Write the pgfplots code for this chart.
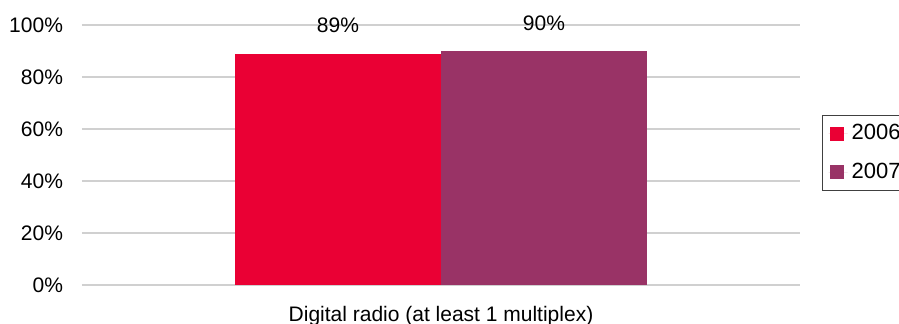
\documentclass[border=0pt]{standalone}
\usepackage{pgfplots}
\pgfplotsset{compat=1.18}
\usepackage{fontspec}
\setmainfont{Liberation Sans}
\definecolor{c2006}{RGB}{234,0,52}
\definecolor{c2007}{RGB}{153,51,102}
\definecolor{gridc}{RGB}{208,208,208}
\begin{document}
\begin{tikzpicture}
\begin{axis}[
  at={(0,0)}, anchor=south west,
  width=359pt, height=130pt, scale only axis,
  /pgf/number format/assume math mode=true,
  ybar=0pt, bar width=103pt,
  xmin=-1, xmax=1, ymin=0, ymax=100,
  xtick={0}, xticklabels={Digital radio (at least 1 multiplex)},
  extra x ticks={-1,1}, extra x tick labels={},
  extra x tick style={major tick length=3pt, tick style={gridc, line width=0.8pt}, tick align=outside, grid=none},
  xtick style={draw=none},
  ytick={0,20,40,60,80,100},
  yticklabels={0\%,20\%,40\%,60\%,80\%,100\%},
  ymajorgrids, grid style={gridc, line width=0.8pt},
  ytick style={draw=none},
  axis x line*=bottom, axis y line*=left,
  x axis line style={gridc, line width=0.8pt, -},
  y axis line style={draw=none},
  tick label style={font=\fontsize{10.5}{12}\selectfont, text=black},
  yticklabel style={xshift=-6pt},
  xticklabel style={yshift=-3pt},
  nodes near coords={\pgfmathprintnumber{\pgfplotspointmeta}\%},
  every node near coord/.append style={font=\fontsize{10.5}{12}\selectfont, anchor=center, yshift=14pt, text=black},
  legend style={at={(1.0306,0.654)}, anchor=north west, draw=black!75, line width=0.6pt,
    font=\fontsize{11}{12}\selectfont, row sep=6pt, inner ysep=2.5pt, inner xsep=3pt},
  legend cell align=left,
  legend image code/.code={\fill[#1] (0.5pt,-3.6pt) rectangle (7.7pt,3.6pt); \path (0,0) -- (9.5pt,0);},
]
\addplot[fill=c2006, draw=none] coordinates {(0,89)};
\addplot[fill=c2007, draw=none] coordinates {(0,90)};
\legend{2006,2007}
\end{axis}
\pgfresetboundingbox
\path (-41pt,-19.5pt) rectangle (408.5pt,142.5pt);
\end{tikzpicture}
\end{document}
